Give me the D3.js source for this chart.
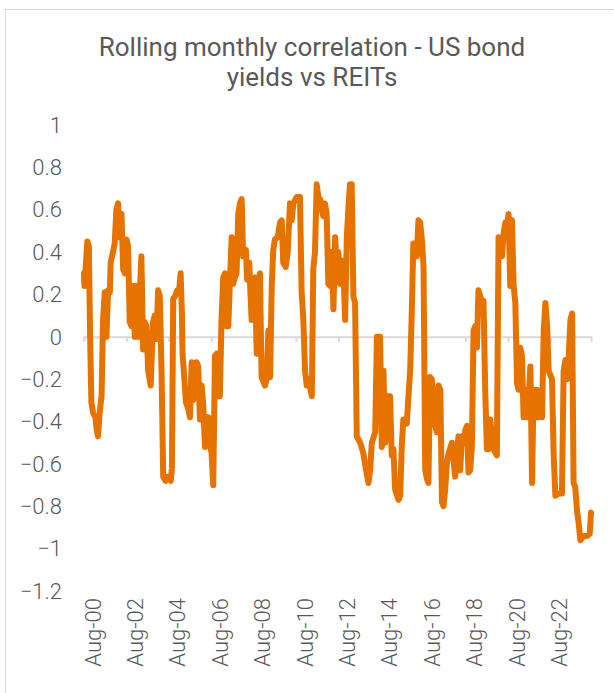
<!DOCTYPE html>
<html>
<head>
<meta charset="utf-8">
<script src="https://cdn.jsdelivr.net/npm/d3@7"></script>
<style>
  body { margin: 0; background: #fff; }
  text { font-family: Roboto, "Open Sans", sans-serif; fill: #595959; }
</style>
</head>
<body>
<div id="chart"></div>
<script>
// chart title lines
var titleLines = ["Rolling monthly correlation - US bond", "yields vs REITs"];

// y axis ticks
var yTicks = [1, 0.8, 0.6, 0.4, 0.2, 0, -0.2, -0.4, -0.6, -0.8, -1, -1.2];

// x axis tick labels (every two years, August)
var xTickYears = [2000, 2002, 2004, 2006, 2008, 2010, 2012, 2014, 2016, 2018, 2020, 2022];

// observation dates as decimal years
var years = [
  2000.58, 2000.60, 2000.74, 2000.81, 2000.87, 2000.93, 2001.01, 2001.12, 2001.18, 2001.24,
  2001.33, 2001.41, 2001.48, 2001.56, 2001.64, 2001.72, 2001.80, 2001.84, 2001.95, 2002.03,
  2002.11, 2002.19, 2002.27, 2002.35, 2002.43, 2002.51, 2002.59, 2002.66, 2002.74, 2002.82,
  2002.90, 2002.98, 2003.06, 2003.13, 2003.29, 2003.37, 2003.45, 2003.53, 2003.61, 2003.73,
  2003.84, 2003.92, 2004.00, 2004.08, 2004.16, 2004.24, 2004.32, 2004.43, 2004.55, 2004.68,
  2004.73, 2004.79, 2004.87, 2004.98, 2005.07, 2005.14, 2005.20, 2005.23, 2005.29, 2005.39,
  2005.50, 2005.58, 2005.66, 2005.73, 2005.81, 2005.89, 2005.97, 2006.05, 2006.13, 2006.20,
  2006.29, 2006.37, 2006.44, 2006.52, 2006.60, 2006.68, 2006.76, 2006.84, 2006.91, 2006.99,
  2007.07, 2007.15, 2007.23, 2007.31, 2007.39, 2007.47, 2007.55, 2007.62, 2007.70, 2007.78,
  2007.86, 2007.94, 2008.02, 2008.09, 2008.22, 2008.28, 2008.38, 2008.44, 2008.49, 2008.57,
  2008.65, 2008.73, 2008.80, 2008.88, 2008.96, 2009.12, 2009.20, 2009.28, 2009.36, 2009.44,
  2009.51, 2009.59, 2009.72, 2009.83, 2009.91, 2009.98, 2010.10, 2010.19, 2010.30, 2010.38,
  2010.46, 2010.62, 2010.77, 2010.85, 2010.93, 2011.01, 2011.09, 2011.16, 2011.33, 2011.40,
  2011.48, 2011.56, 2011.64, 2011.72, 2011.80, 2011.87, 2011.95, 2012.03, 2012.11, 2012.19,
  2012.27, 2012.35, 2012.43, 2012.51, 2012.58, 2012.66, 2012.74, 2012.82, 2012.90, 2012.98,
  2013.05, 2013.13, 2013.21, 2013.29, 2013.37, 2013.45, 2013.61, 2013.76, 2013.84, 2014.00,
  2014.08, 2014.16, 2014.32, 2014.40, 2014.55, 2014.63, 2014.71, 2014.79, 2014.87, 2015.02,
  2015.10, 2015.18, 2015.26, 2015.42, 2015.50, 2015.58, 2015.65, 2015.81, 2015.89, 2015.97,
  2016.05, 2016.12, 2016.20, 2016.28, 2016.36, 2016.44, 2016.52, 2016.60, 2016.68, 2016.76,
  2016.83, 2016.91, 2016.99, 2017.07, 2017.15, 2017.23, 2017.31, 2017.39, 2017.47, 2017.54,
  2017.62, 2017.70, 2017.78, 2017.94, 2018.09, 2018.17, 2018.25, 2018.33, 2018.41, 2018.49,
  2018.57, 2018.65, 2018.72, 2018.80, 2018.88, 2018.96, 2019.04, 2019.12, 2019.19, 2019.28,
  2019.36, 2019.43, 2019.51, 2019.59, 2019.67, 2019.75, 2019.83, 2019.90, 2020.06, 2020.14,
  2020.22, 2020.30, 2020.38, 2020.46, 2020.54, 2020.61, 2020.69, 2020.77, 2020.85, 2020.93,
  2021.01, 2021.08, 2021.16, 2021.24, 2021.32, 2021.40, 2021.48, 2021.56, 2021.64, 2021.72,
  2021.79, 2021.87, 2021.95, 2022.03, 2022.11, 2022.19, 2022.27, 2022.35, 2022.43, 2022.50,
  2022.66, 2022.74, 2022.82, 2022.97, 2023.13, 2023.21, 2023.29, 2023.37, 2023.45, 2023.53,
  2023.61, 2023.68, 2023.76, 2023.84, 2023.92, 2024.00, 2024.15, 2024.32, 2024.44, 2024.50
];

// rolling correlation values
var corr = [
  0.30, 0.24, 0.45, 0.43, 0.00, -0.31, -0.36, -0.38, -0.44, -0.47,
  -0.35, -0.28, 0.08, 0.21, 0.00, 0.22, 0.21, 0.35, 0.40, 0.44,
  0.60, 0.63, 0.47, 0.58, 0.32, 0.30, 0.46, 0.43, 0.07, 0.05,
  0.24, 0.00, 0.24, 0.00, 0.38, -0.06, 0.07, 0.05, -0.16, -0.23,
  0.07, 0.10, -0.01, 0.22, 0.19, -0.16, -0.66, -0.68, -0.66, -0.68,
  -0.62, 0.18, 0.19, 0.22, 0.22, 0.30, 0.11, -0.08, -0.16, -0.31,
  -0.34, -0.38, -0.12, -0.30, -0.25, -0.12, -0.14, -0.39, -0.23, -0.31,
  -0.52, -0.38, -0.38, -0.50, -0.55, -0.70, -0.09, -0.08, -0.28, -0.28,
  0.08, 0.28, 0.30, 0.05, 0.05, 0.27, 0.47, 0.25, 0.28, 0.30,
  0.58, 0.63, 0.65, 0.38, 0.41, 0.27, 0.35, 0.19, 0.08, 0.25,
  0.28, -0.08, 0.24, 0.30, -0.19, -0.23, -0.20, 0.03, -0.19, 0.25,
  0.41, 0.46, 0.47, 0.54, 0.55, 0.35, 0.33, 0.40, 0.63, 0.55,
  0.63, 0.66, 0.66, 0.21, 0.08, -0.16, -0.23, -0.20, -0.28, 0.32,
  0.40, 0.72, 0.66, 0.65, 0.60, 0.57, 0.63, 0.58, 0.25, 0.24,
  0.40, 0.13, 0.47, 0.32, 0.40, 0.25, 0.36, 0.32, 0.08, 0.47,
  0.60, 0.72, 0.72, 0.19, 0.16, -0.47, -0.50, -0.55, -0.60, -0.69,
  -0.63, -0.50, -0.45, 0.00, 0.00, -0.52, -0.16, -0.50, -0.28, -0.28,
  -0.56, -0.53, -0.72, -0.77, -0.75, -0.50, -0.39, -0.41, -0.28, -0.16,
  0.13, 0.44, 0.43, 0.38, 0.55, 0.54, 0.46, 0.33, -0.63, -0.67,
  -0.69, -0.19, -0.20, -0.30, -0.42, -0.45, -0.23, -0.25, -0.78, -0.80,
  -0.72, -0.60, -0.55, -0.50, -0.66, -0.56, -0.47, -0.63, -0.47, -0.50,
  -0.44, -0.42, -0.64, -0.63, -0.52, 0.03, 0.05, -0.05, 0.22, 0.19,
  0.16, 0.17, -0.25, -0.53, -0.53, -0.39, -0.47, -0.53, -0.56, 0.47,
  0.38, 0.38, 0.49, 0.54, 0.52, 0.58, 0.24, 0.55, 0.24, 0.16,
  -0.22, -0.25, -0.05, -0.09, -0.38, -0.25, -0.38, -0.28, -0.14, -0.69,
  -0.25, -0.38, -0.25, -0.38, -0.28, -0.38, 0.03, 0.16, 0.05, -0.16,
  -0.20, -0.56, -0.75, -0.74, -0.74, -0.16, -0.11, -0.20, -0.09, 0.08,
  0.11, -0.69, -0.71, -0.82, -0.88, -0.96, -0.94, -0.94, -0.93, -0.83
];

var W = 614, H = 693;
var plot = {left: 84, right: 591, top: 125, bottom: 591};

// decimal year -> Date
var toDate = function(t) {
  var y = Math.floor(t);
  var a = new Date(y, 0, 1), b = new Date(y + 1, 0, 1);
  return new Date(+a + (t - y) * (b - a));
};

var data = years.map(function(t, i) { return {date: toDate(t), value: corr[i]}; });

var svg = d3.select("#chart")
  .append("svg")
    .attr("width", W)
    .attr("height", H);

// chart frame (runs off the right and bottom edges)
svg.append("rect")
  .attr("x", 5.5).attr("y", 9.5)
  .attr("width", W + 10).attr("height", H + 10)
  .attr("fill", "#fff")
  .attr("stroke", "#d9d9d9")
  .attr("stroke-width", 1);

// title
svg.append("g")
  .selectAll("text")
  .data(titleLines)
  .enter()
  .append("text")
    .attr("x", 312)
    .attr("y", function(d, i) { return 56 + i * 30; })
    .attr("text-anchor", "middle")
    .style("font-size", "26px")
    .style("font-weight", 400)
    .text(function(d) { return d; });

var x = d3.scaleTime()
  .domain([new Date(2000, 7, 1), data[data.length - 1].date])
  .range([plot.left, plot.right]);

var y = d3.scaleLinear()
  .domain([-1.2, 1])
  .range([plot.bottom, plot.top]);

// y labels (no axis line)
svg.append("g")
  .selectAll("text")
  .data(yTicks)
  .enter()
  .append("text")
    .attr("x", 62)
    .attr("y", function(d) { return y(d); })
    .attr("dy", "0.35em")
    .attr("text-anchor", "end")
    .style("font-size", "22px")
    .style("font-weight", 300)
    .text(function(d) { return d3.format("")(d); });

// horizontal axis at zero with tick marks
var tickDates = xTickYears.map(function(yr) { return new Date(yr, 7, 1); });
var axisG = svg.append("g")
  .attr("transform", "translate(0," + y(0) + ")")
  .call(d3.axisBottom(x).tickValues(tickDates).tickSize(5).tickFormat(""));
axisG.select(".domain").attr("stroke", "#d9d9d9").attr("stroke-width", 2);
axisG.selectAll(".tick line").attr("stroke", "#d9d9d9").attr("stroke-width", 2);

// x labels at the bottom, rotated (sit a little right of each tick)
svg.append("g")
  .selectAll("text")
  .data(tickDates)
  .enter()
  .append("text")
    .attr("transform", function(d) { return "translate(" + (x(d) + 9) + ",598) rotate(-90)"; })
    .attr("dy", "0.35em")
    .attr("text-anchor", "end")
    .style("font-size", "22px")
    .style("font-weight", 300)
    .text(function(d) { return d3.timeFormat("%b-%y")(d); });

// correlation line
svg.append("path")
  .datum(data)
  .attr("fill", "none")
  .attr("stroke", "#e67300")
  .attr("stroke-width", 6)
  .attr("stroke-linejoin", "round")
  .attr("stroke-linecap", "round")
  .attr("d", d3.line()
    .x(function(d) { return x(d.date); })
    .y(function(d) { return y(d.value); })
  );
</script>
</body>
</html>
